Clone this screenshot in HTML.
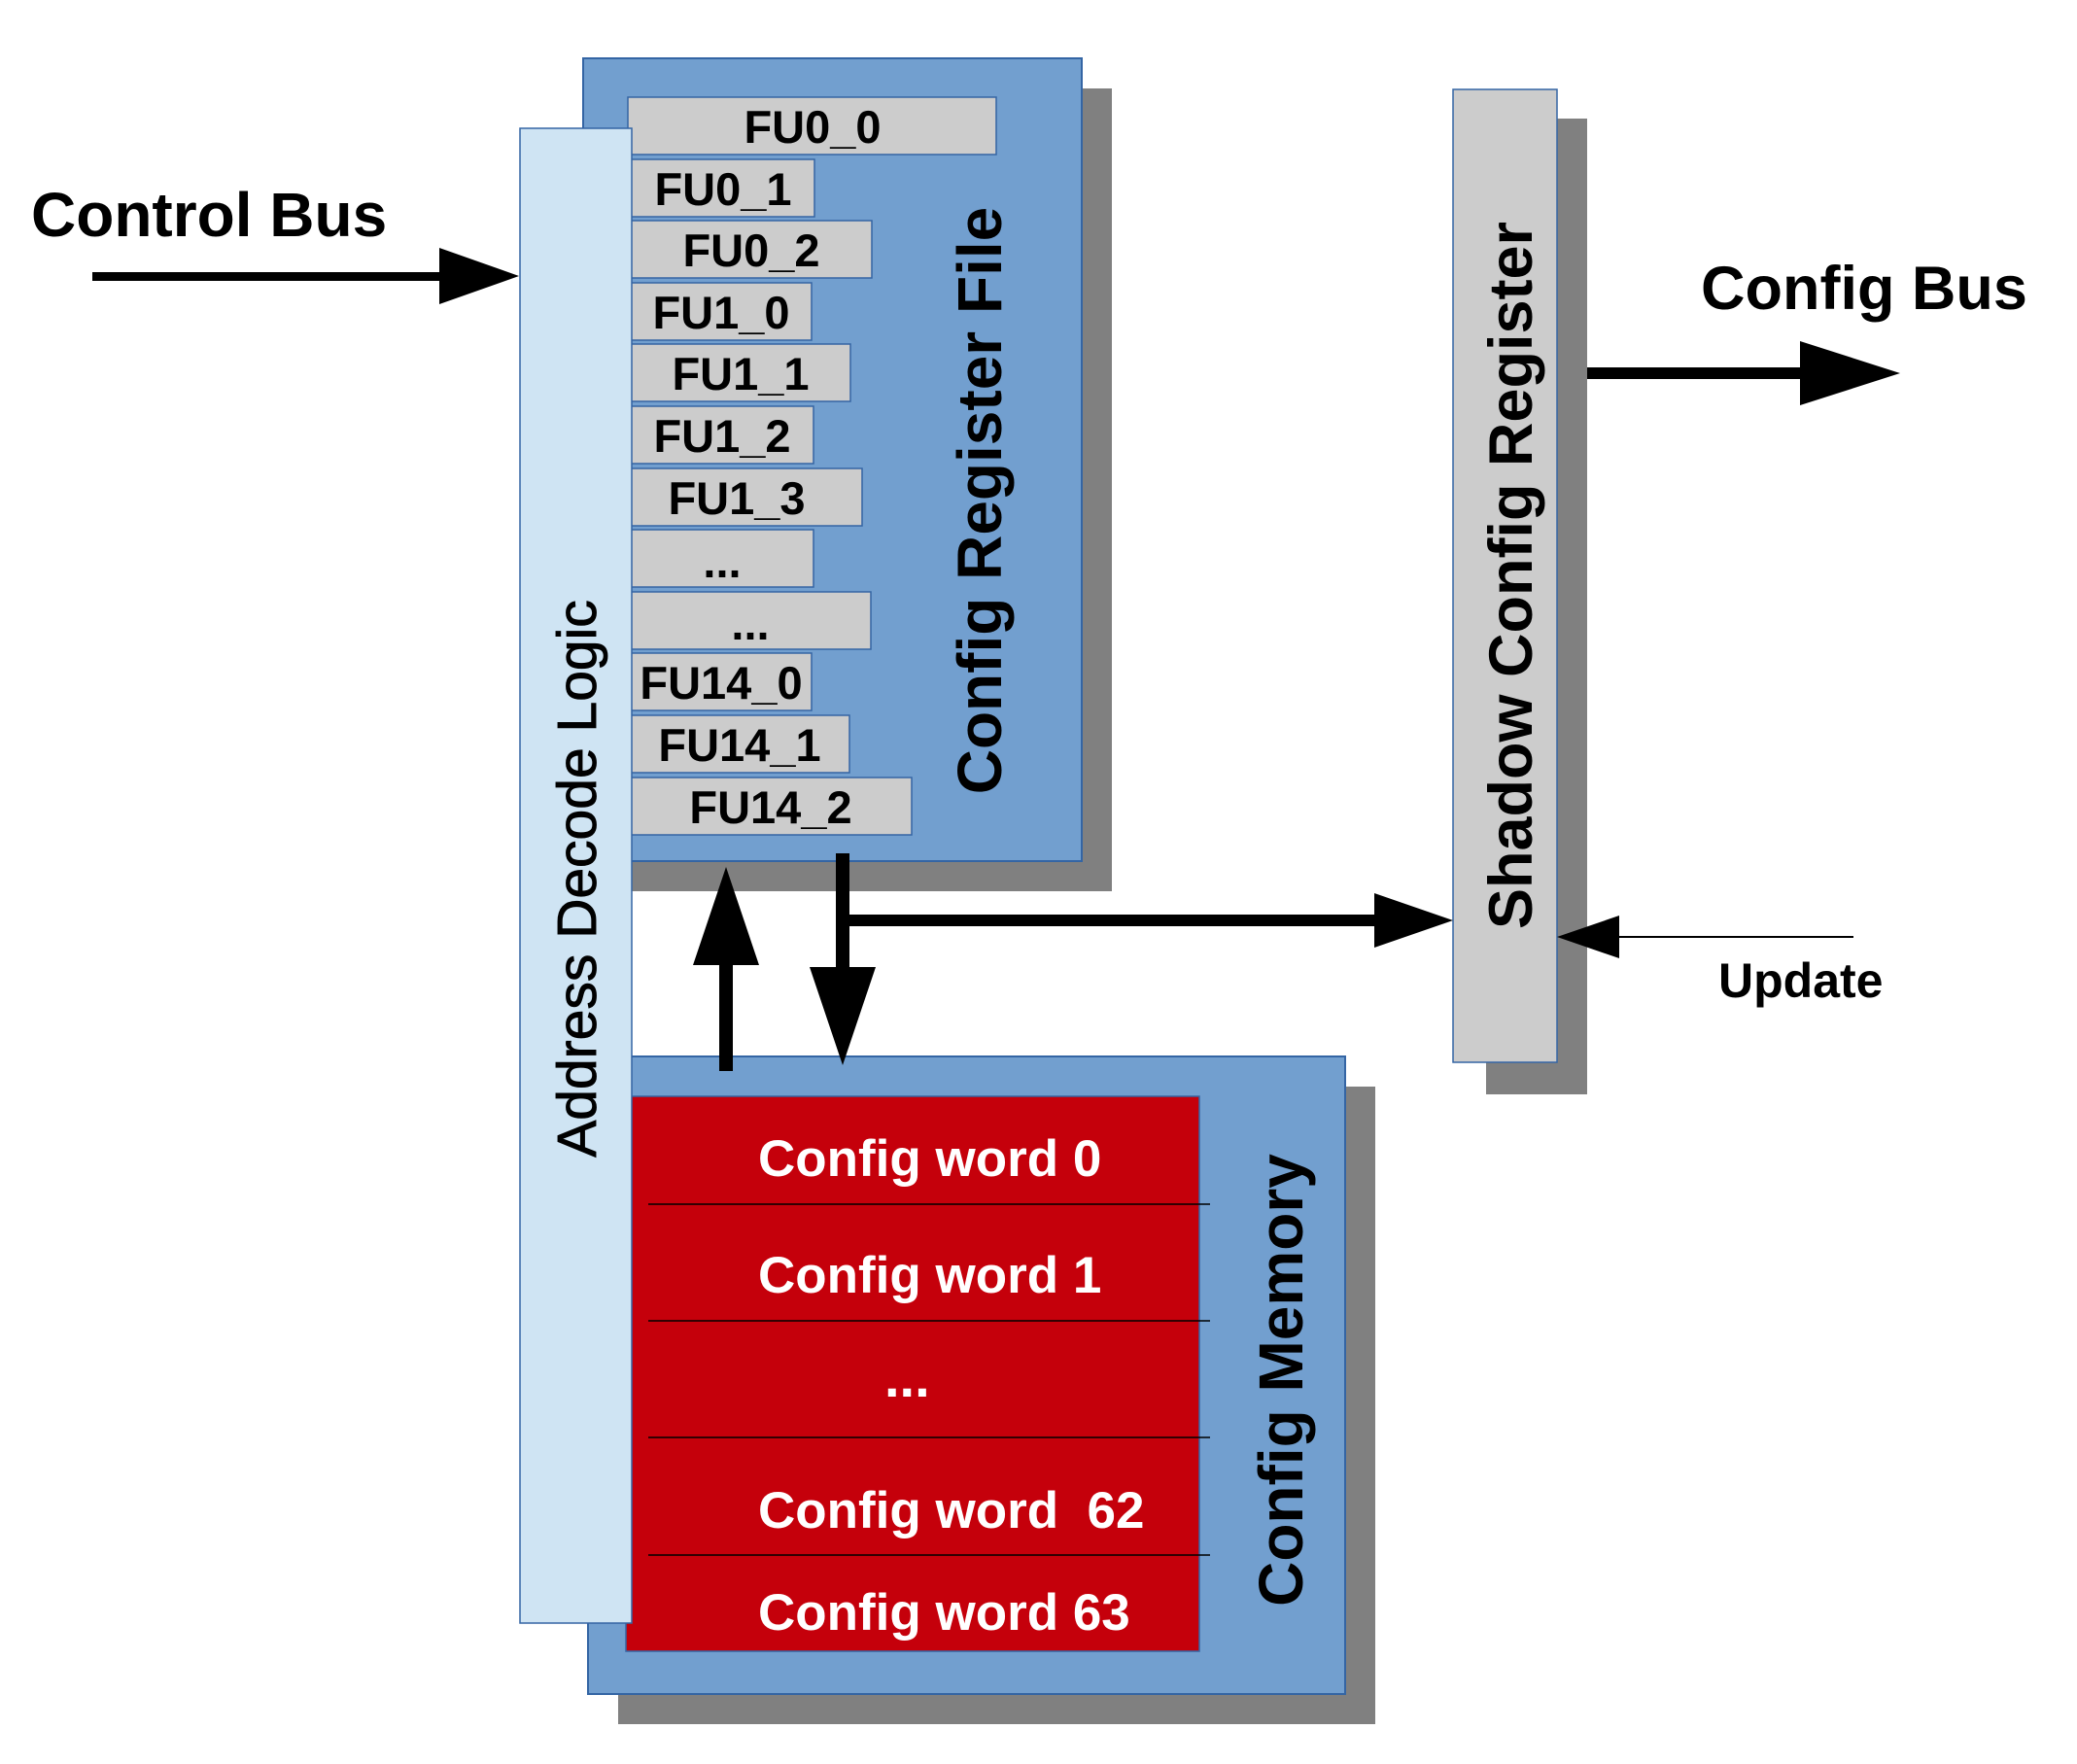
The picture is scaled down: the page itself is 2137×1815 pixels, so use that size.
<!DOCTYPE html>
<html><head><meta charset="utf-8"><style>html,body{margin:0;padding:0;background:#fff}svg{display:block}</style></head>
<body>
<svg width="2137" height="1815" viewBox="0 0 2137 1815" xmlns="http://www.w3.org/2000/svg" font-family="Liberation Sans, sans-serif">
<rect width="2137" height="1815" fill="#fff"/>
<rect x="631" y="91" width="513" height="826" fill="#808080"/>
<rect x="600" y="60" width="513" height="826" fill="#729fcf" stroke="#3465a4" stroke-width="2"/>
<rect x="636" y="1118" width="779" height="656" fill="#808080"/>
<rect x="605" y="1087" width="779" height="656" fill="#729fcf" stroke="#3465a4" stroke-width="2"/>
<rect x="644" y="1128" width="590" height="571" fill="#c5000b" stroke="#3465a4" stroke-width="1.5"/>
<g stroke="#000" stroke-width="1.5">
<line x1="667" y1="1239" x2="1245" y2="1239"/><line x1="667" y1="1359" x2="1245" y2="1359"/>
<line x1="667" y1="1479" x2="1245" y2="1479"/><line x1="667" y1="1600" x2="1245" y2="1600"/>
</g>
<g fill="#fff" font-weight="bold" font-size="53">
<text x="780" y="1210">Config word 0</text>
<text x="780" y="1330">Config word 1</text>
<text x="910" y="1437" font-size="56">...</text>
<text x="780" y="1572" xml:space="preserve">Config word  62</text>
<text x="780" y="1677">Config word 63</text>
</g>
<text transform="translate(1340,1420) rotate(-90)" text-anchor="middle" font-weight="bold" font-size="64" fill="#000">Config Memory</text>
<g fill="#cccccc" stroke="#3465a4" stroke-width="1.5">
<rect x="646" y="100" width="379" height="59"/>
<rect x="649" y="164" width="189" height="59"/>
<rect x="649" y="227" width="248" height="59"/>
<rect x="649" y="291" width="186" height="59"/>
<rect x="649" y="354" width="226" height="59"/>
<rect x="649" y="418" width="188" height="59"/>
<rect x="649" y="482" width="238" height="59"/>
<rect x="649" y="545" width="188" height="59"/>
<rect x="649" y="609" width="247" height="59"/>
<rect x="649" y="672" width="186" height="59"/>
<rect x="649" y="736" width="225" height="59"/>
<rect x="649" y="800" width="289" height="59"/>
</g>
<g font-weight="bold" font-size="47" text-anchor="middle" fill="#000">
<text x="836" y="147">FU0_0</text>
<text x="744" y="211">FU0_1</text>
<text x="773" y="274">FU0_2</text>
<text x="742" y="338">FU1_0</text>
<text x="762" y="401">FU1_1</text>
<text x="743" y="465">FU1_2</text>
<text x="758" y="529">FU1_3</text>
<text x="743" y="594">...</text>
<text x="772" y="658">...</text>
<text x="742" y="719">FU14_0</text>
<text x="761" y="783">FU14_1</text>
<text x="793" y="847">FU14_2</text>
</g>
<text transform="translate(1030,515) rotate(-90)" text-anchor="middle" font-weight="bold" font-size="64" fill="#000">Config Register File</text>
<rect x="535" y="132" width="115" height="1538" fill="#cfe4f3" stroke="#3465a4" stroke-width="1.5"/>
<text transform="translate(613,904) rotate(-90)" text-anchor="middle" font-size="57" fill="#000" stroke="#000" stroke-width="0.9">Address Decode Logic</text>
<rect x="1529" y="122" width="104" height="1004" fill="#808080"/>
<rect x="1495" y="92" width="107" height="1001" fill="#cccccc" stroke="#3465a4" stroke-width="1.5"/>
<text transform="translate(1576,592) rotate(-90)" text-anchor="middle" font-weight="bold" font-size="63" fill="#000">Shadow Config Register</text>
<g font-weight="bold" fill="#000">
<text x="32" y="243" font-size="64">Control Bus</text>
<text x="1750" y="318" font-size="63">Config Bus</text>
<text x="1768" y="1026" font-size="50">Update</text>
</g>
<g fill="#000">
<rect x="95" y="280" width="362" height="9"/>
<polygon points="452,255 534,284 452,313"/>
<rect x="1633" y="378" width="225" height="12"/>
<polygon points="1852,351 1955,384 1852,417"/>
<rect x="1664" y="963" width="243" height="2"/>
<polygon points="1602,964 1666,942 1666,986"/>
<rect x="740" y="985" width="14" height="117"/>
<polygon points="747,892 713,993 781,993"/>
<rect x="860" y="878" width="14" height="120"/>
<polygon points="833,995 901,995 867,1096"/>
<rect x="867" y="941" width="554" height="12"/>
<polygon points="1414,919 1495,947 1414,975"/>
</g>
</svg>
</body></html>
